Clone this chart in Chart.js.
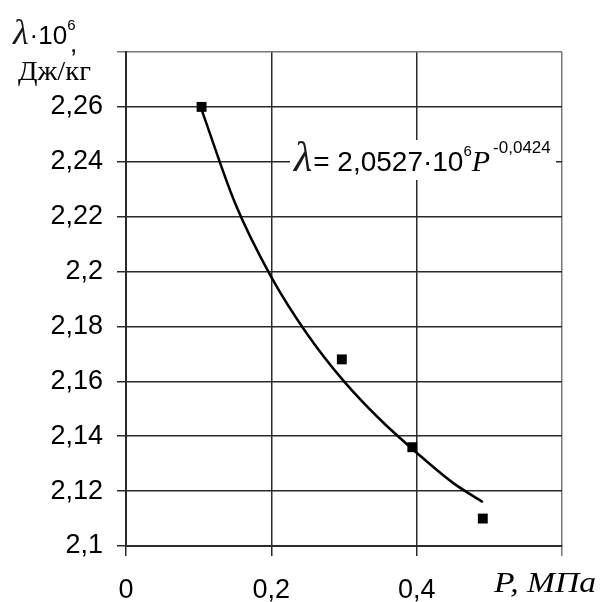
<!DOCTYPE html>
<html>
<head>
<meta charset="utf-8">
<script src="https://cdn.jsdelivr.net/npm/chart.js@4.4.0/dist/chart.umd.min.js"></script>
<style>
  html, body { margin: 0; padding: 0; background: #fff; }
  canvas { display: block; }
</style>
</head>
<body>
<canvas id="chart" width="602" height="602"></canvas>
<script>
// measured points
const pressure = [0.104, 0.297, 0.394, 0.491];
const heat = [2.260, 2.168, 2.136, 2.110];

// trend curve
const trendP = [0.104, 0.15, 0.2, 0.25, 0.3, 0.35, 0.4, 0.45, 0.491];
const trendHeat = [2.259, 2.225, 2.198, 2.177, 2.160, 2.146, 2.134, 2.123, 2.116];

const yTicks = [2.1, 2.12, 2.14, 2.16, 2.18, 2.2, 2.22, 2.24, 2.26, 2.28];
const yTickLabels = ['2,1', '2,12', '2,14', '2,16', '2,18', '2,2', '2,22', '2,24', '2,26', ''];
const xTicks = [0, 0.2, 0.4, 0.6];
const xTickLabels = ['0', '0,2', '0,4', ''];

const SANS = '"Liberation Sans", Arial, sans-serif';
const SERIF = '"Liberation Serif", "Times New Roman", serif';

// draws a row of differently styled text pieces, optionally stretched sideways
function drawRuns(ctx, x, y, runs, sx) {
  ctx.save();
  ctx.translate(x, y);
  ctx.scale(sx || 1, 1);
  let cx = 0;
  runs.forEach(r => {
    ctx.font = r.font;
    ctx.fillStyle = r.color || '#000';
    ctx.fillText(r.text, cx, r.dy || 0);
    cx += ctx.measureText(r.text).width + (r.gap || 0);
  });
  ctx.restore();
}

const labelsPlugin = {
  id: 'labels',
  afterDraw(chart) {
    const ctx = chart.ctx;
    ctx.save();
    ctx.textBaseline = 'alphabetic';
    ctx.textAlign = 'left';

    // equation box
    ctx.fillStyle = '#fff';
    ctx.fillRect(290, 140, 266, 40);
    drawRuns(ctx, 294, 171, [
      { text: 'λ', font: 'italic 42px ' + SERIF, color: '#1a1a1a', gap: 1 },
      { text: '= 2,0527·10', font: '28px ' + SANS },
      { text: '6', font: '15px ' + SANS, dy: -15 },
      { text: 'P', font: 'italic 30px ' + SERIF, gap: 3 },
      { text: '-0,0424', font: '17px ' + SANS, dy: -18 }
    ], 1.0);

    // y axis title
    drawRuns(ctx, 13, 44, [
      { text: 'λ', font: 'italic 36px ' + SERIF, color: '#1a1a1a', gap: 1 },
      { text: '·10', font: '26px ' + SANS },
      { text: '6', font: '15px ' + SANS, dy: -14 }
    ]);
    ctx.fillStyle = '#000';
    ctx.font = '26px ' + SANS;
    ctx.fillText(',', 70, 52);
    drawRuns(ctx, 18, 80, [
      { text: 'Дж/кг', font: '27px ' + SERIF }
    ], 1.06);

    // x axis title
    drawRuns(ctx, 494, 592, [
      { text: 'P, МПа', font: 'italic 30px ' + SERIF }
    ], 1.12);
    ctx.restore();
  }
};

new Chart(document.getElementById('chart'), {
  type: 'scatter',
  data: {
    datasets: [
      {
        label: 'trend',
        data: trendP.map((p, i) => ({ x: p, y: trendHeat[i] })),
        showLine: true,
        borderColor: '#000',
        borderWidth: 2.5,
        pointRadius: 0,
        cubicInterpolationMode: 'monotone'
      },
      {
        label: 'points',
        data: pressure.map((p, i) => ({ x: p, y: heat[i] })),
        pointStyle: 'rect',
        pointRadius: 7,
        backgroundColor: '#000',
        borderColor: '#000',
        borderWidth: 0
      }
    ]
  },
  options: {
    responsive: false,
    animation: false,
    layout: { padding: { top: 52, right: 40, left: 0, bottom: 0 } },
    plugins: { legend: { display: false }, tooltip: { enabled: false } },
    scales: {
      x: {
        type: 'linear',
        min: 0,
        max: 0.6,
        afterBuildTicks: s => { s.ticks = xTicks.map(v => ({ value: v })); },
        afterFit: s => { s.height = 56; },
        grid: {
          color: c => (c.tick && c.tick.value === 0.6 ? '#777' : '#2a2a2a'),
          lineWidth: 1.5,
          tickLength: 10
        },
        border: { color: '#2a2a2a', width: 2 },
        ticks: {
          color: '#000',
          font: { family: SANS, size: 27 },
          padding: 18,
          maxRotation: 0,
          autoSkip: false,
          callback: (v, i) => xTickLabels[i]
        }
      },
      y: {
        min: 2.1,
        max: 2.28,
        afterBuildTicks: s => { s.ticks = yTicks.map(v => ({ value: v })); },
        afterFit: s => { s.width = 126; },
        grid: {
          color: c => (c.tick && c.tick.value === 2.28 ? '#777' : '#2a2a2a'),
          lineWidth: 1.5,
          tickLength: 9
        },
        border: { color: '#2a2a2a', width: 2 },
        ticks: {
          color: '#000',
          font: { family: SANS, size: 27 },
          padding: 14,
          autoSkip: false,
          callback: (v, i) => yTickLabels[i]
        }
      }
    }
  },
  plugins: [labelsPlugin]
});
</script>
</body>
</html>
